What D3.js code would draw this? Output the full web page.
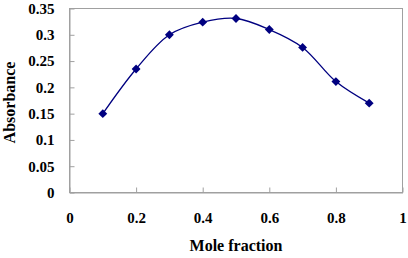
<!DOCTYPE html>
<html>
<head>
<meta charset="utf-8">
<script src="https://cdn.jsdelivr.net/npm/d3@7"></script>
<style>
  body { margin: 0; background: #fff; }
  svg text { font-family: "Liberation Serif", "Times New Roman", serif; font-weight: bold; fill: #000; }
</style>
</head>
<body>
<div id="chart"></div>
<script>
// Chart Data
const moleFraction = [0.1, 0.2, 0.3, 0.4, 0.5, 0.6, 0.7, 0.8, 0.9];
const absorbance = [0.150, 0.235, 0.300, 0.324, 0.331, 0.310, 0.276, 0.211, 0.170];
const xTicks = [0, 0.2, 0.4, 0.6, 0.8, 1];
const yTicks = [0, 0.05, 0.1, 0.15, 0.2, 0.25, 0.3, 0.35];

// Dimensions
let w = 408, h = 258;
let padL = 69.5, padR = 402.5, padT = 8.5, padB = 192.5;
let serif = "'Liberation Serif', 'Times New Roman', serif";

let svg = d3.select("#chart").append("svg").attr("width", w).attr("height", h)
  .attr("font-family", serif);

// Scales
let xScale = d3.scaleLinear().domain([0, 1]).range([padL, padR]);
let yScale = d3.scaleLinear().domain([0, 0.35]).range([padB, padT]);

// Plot Border
svg.append("rect").attr("x", padL).attr("y", padT).attr("width", padR - padL).attr("height", padB - padT)
  .attr("fill", "none").attr("stroke", "#a0a0a0").attr("stroke-width", 1);

// Axes (ticks pointing inward)
let xAxis = d3.axisBottom(xScale).tickValues(xTicks).tickSizeInner(-5).tickSizeOuter(0).tickPadding(20)
  .tickFormat((d) => d3.format("")(d));
let yAxis = d3.axisLeft(yScale).tickValues(yTicks).tickSizeInner(-5).tickSizeOuter(0).tickPadding(15)
  .tickFormat((d) => d3.format("")(d));

let gx = svg.append("g").attr("transform", "translate(0," + padB + ")").call(xAxis);
let gy = svg.append("g").attr("transform", "translate(" + padL + ",0)").call(yAxis);
[gx, gy].forEach((g) => {
  g.attr("font-family", serif).attr("font-size", 15).attr("font-weight", "bold");
  g.select(".domain").attr("stroke", "#a0a0a0");
  g.selectAll(".tick line").attr("stroke", "#a0a0a0");
  g.selectAll(".tick text").attr("fill", "#000");
});

// Line
let line = d3.line().x((d, i) => xScale(moleFraction[i])).y((d) => yScale(d)).curve(d3.curveCatmullRom.alpha(0.5));
svg.append("path").datum(absorbance).attr("d", line).attr("fill", "none").attr("stroke", "#000080").attr("stroke-width", 1.3);

// Markers
svg.selectAll(".pt").data(absorbance).enter().append("path").attr("class", "pt")
  .attr("d", d3.symbol().type(d3.symbolDiamond2).size(50))
  .attr("transform", (d, i) => "translate(" + xScale(moleFraction[i]) + "," + yScale(d) + ")")
  .attr("fill", "#000080");

// Axis Labels
svg.append("text").text("Mole fraction").attr("x", (padL + padR) / 2).attr("y", 251)
  .attr("text-anchor", "middle").attr("font-size", 16);
svg.append("text").text("Absorbance").attr("transform", "translate(15," + ((padT + padB) / 2 + 2) + ") rotate(-90)")
  .attr("text-anchor", "middle").attr("font-size", 16);
</script>
</body>
</html>
